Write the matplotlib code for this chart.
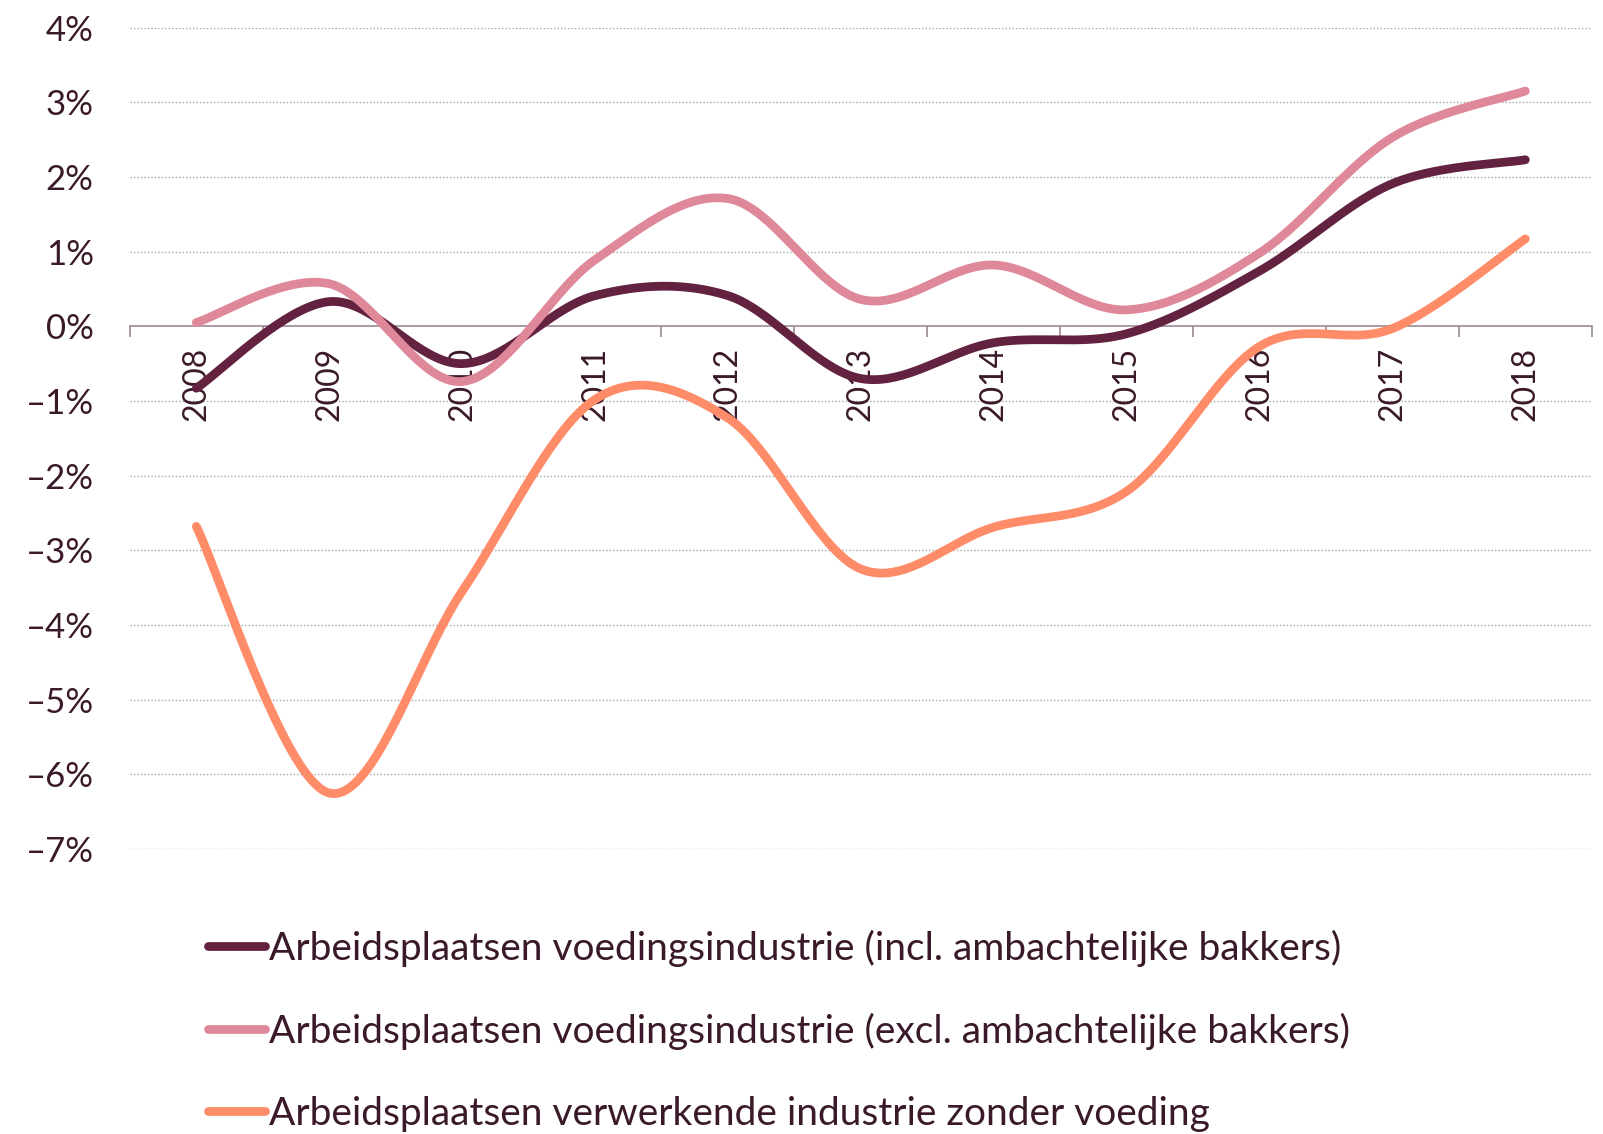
import matplotlib
matplotlib.use('Agg')
import matplotlib.pyplot as plt
import numpy as np

plt.rcParams['font.family'] = ['Lato', 'DejaVu Sans']

# Gegevens
jaren = ['2008', '2009', '2010', '2011', '2012', '2013', '2014', '2015', '2016', '2017', '2018']
incl_bakkers = [-0.83, 0.33, -0.50, 0.41, 0.41, -0.70, -0.22, -0.10, 0.74, 1.91, 2.23]
excl_bakkers = [0.05, 0.57, -0.74, 0.89, 1.71, 0.36, 0.82, 0.22, 0.98, 2.53, 3.15]
verwerkend = [-2.68, -6.25, -3.55, -0.98, -1.23, -3.25, -2.69, -2.21, -0.27, -0.03, 1.17]

labels = ['Arbeidsplaatsen voedingsindustrie (incl. ambachtelijke bakkers)',
          'Arbeidsplaatsen voedingsindustrie (excl. ambachtelijke bakkers)',
          'Arbeidsplaatsen verwerkende industrie zonder voeding']
kleuren = ['#632240', '#DE8899', '#FF8C69']
tekstkleur = '#3a1a2a'


def smooth(y, n=40):
    # Bezier-smoothing zoals in Excel (Catmull-Rom)
    y = np.asarray(y, dtype=float)
    x = np.arange(len(y), dtype=float)
    px = np.concatenate([[x[0]], x, [x[-1]]])
    py = np.concatenate([[y[0]], y, [y[-1]]])
    xs, ys = [], []
    t = np.linspace(0, 1, n)
    for i in range(1, len(px) - 2):
        p0 = np.array([px[i], py[i]])
        p3 = np.array([px[i + 1], py[i + 1]])
        c1 = p0 + (np.array([px[i + 1], py[i + 1]]) - np.array([px[i - 1], py[i - 1]])) / 6
        c2 = p3 - (np.array([px[i + 2], py[i + 2]]) - np.array([px[i], py[i]])) / 6
        b = ((1 - t) ** 3)[:, None] * p0 + (3 * (1 - t) ** 2 * t)[:, None] * c1 \
            + (3 * (1 - t) * t ** 2)[:, None] * c2 + (t ** 3)[:, None] * p3
        xs.extend(b[:, 0])
        ys.extend(b[:, 1])
    return np.array(xs), np.array(ys)


fig = plt.figure(figsize=(16.03, 11.34), dpi=100)
ax = fig.add_axes([0.081, 0.2513, 0.912, 0.7244])

ax.set_xlim(-0.5, len(jaren) - 0.5)
ax.set_ylim(-7, 4)

# rasterlijnen
for v in range(-7, 5):
    if v != 0:
        ax.axhline(v, color='#a6a6a6', lw=1, ls=(0, (1, 1.5)), zorder=1)

for reeks, kleur, label in zip([incl_bakkers, excl_bakkers, verwerkend], kleuren, labels):
    xs, ys = smooth(reeks)
    ax.plot(xs, ys, color=kleur, lw=6.3, solid_capstyle='round', label=label, zorder=3)

for s in ['top', 'right', 'left']:
    ax.spines[s].set_visible(False)
ax.spines['bottom'].set_position(('data', 0))
ax.spines['bottom'].set_color('#9b8a93')
ax.spines['bottom'].set_linewidth(1.2)
ax.spines['bottom'].set_zorder(2)

ax.set_xticks(np.arange(len(jaren)))
ax.set_xticklabels(jaren, rotation=90, fontsize=23, color=tekstkleur, va='top')
ax.set_xticks(np.arange(-0.5, len(jaren)), minor=True)
ax.tick_params(axis='x', which='major', length=0, pad=15)
ax.tick_params(axis='x', which='minor', length=8, width=1.2, color='#9b8a93')

ax.set_yticks(range(-7, 5))
ax.set_yticklabels([('\u2013' if v < 0 else '') + f'{abs(v)}%' for v in range(-7, 5)],
                   fontsize=25, color=tekstkleur)
ax.tick_params(axis='y', length=0, pad=26)

leg = ax.legend(loc='upper left', bbox_to_anchor=(0.13, 0.18), bbox_transform=fig.transFigure,
                frameon=False, fontsize=28, handlelength=1.45, handletextpad=0.1,
                labelspacing=1.18, borderaxespad=0, borderpad=0)
for t in leg.get_texts():
    t.set_color(tekstkleur)

fig.savefig('out.png', dpi=100)
